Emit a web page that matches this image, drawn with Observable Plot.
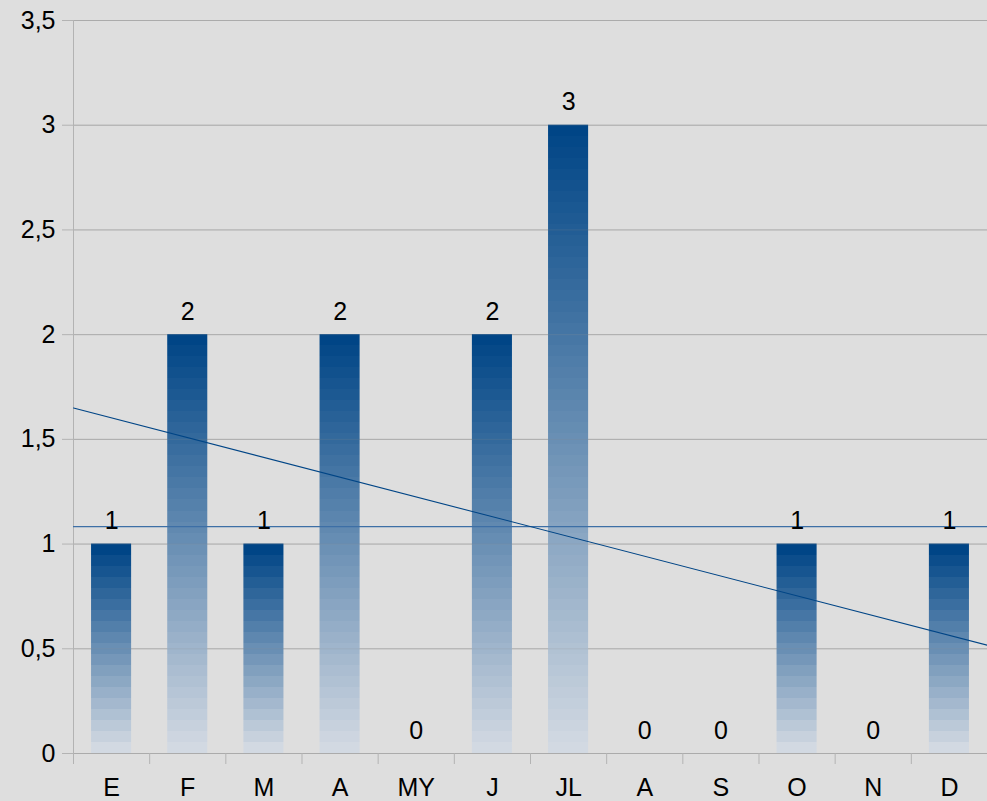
<!DOCTYPE html>
<html>
<head>
<meta charset="utf-8">
<script src="https://cdn.jsdelivr.net/npm/d3@7"></script>
<script src="https://cdn.jsdelivr.net/npm/@observablehq/plot@0.6"></script>
<style>
  html, body { margin: 0; padding: 0; background: #dedede; }
  #chart { width: 987px; height: 801px; }
</style>
</head>
<body>
<div id="chart"></div>
<script>
const months = ["E", "F", "M", "A", "MY", "J", "JL", "A", "S", "O", "N", "D"];
const values = [1, 2, 1, 2, 0, 2, 3, 0, 0, 1, 0, 1];
const yTicks = [0, 0.5, 1, 1.5, 2, 2.5, 3, 3.5];

const data = months.map((m, k) => ({ i: k + 1, month: m, value: values[k] }));

// mean and linear regression computed from data
const meanVal = d3.mean(values);
const xs = data.map(d => d.i);
const xMean = d3.mean(xs);
const slope = d3.sum(data, d => (d.i - xMean) * (d.value - meanVal)) / d3.sum(data, d => (d.i - xMean) ** 2);
const intercept = meanVal - slope * xMean;
const trend = [0.5, months.length + 0.5].map(x => ({ x, y: intercept + slope * x }));

const boundaries = d3.range(0, months.length + 1).map(k => k + 0.5);
const halfBar = 0.263;
const FS = 25;

const plot = Plot.plot({
  width: 987,
  height: 801,
  marginLeft: 73,
  marginRight: 0,
  marginTop: 20,
  marginBottom: 48,
  style: { background: "#dedede", fontFamily: "'Liberation Sans', Arial, sans-serif", fontSize: FS + "px", color: "black" },
  x: { type: "linear", domain: [0.5, months.length + 0.5] },
  y: { domain: [0, 3.5] },
  marks: [
    Plot.gridY(yTicks, { stroke: "#b3b3b3", strokeOpacity: 1 }),
    Plot.rectY(data, { x1: d => d.i - halfBar, x2: d => d.i + halfBar, y: "value", fill: d => `url(#barGrad${d.i})` }),
    Plot.gridY(yTicks, { stroke: "#8a8a8a", strokeOpacity: 0.2 }),
    Plot.ruleX([0.5], { stroke: "#b3b3b3" }),
    Plot.axisY(yTicks, {
      tickSize: 11, tickPadding: 7, stroke: "#b3b3b3", fill: "black",
      tickFormat: d => String(d).replace(".", ","), fontSize: FS
    }),
    Plot.axisX(boundaries, { tickSize: 11, tickFormat: () => "", stroke: "#b3b3b3", label: null }),
    Plot.axisX(xs, { tickSize: 0, tickPadding: 25, tickFormat: i => months[i - 1], fill: "black", fontSize: FS, label: null }),
    Plot.ruleY([meanVal], { stroke: "#3d6fa6", strokeWidth: 1.2 }),
    Plot.line(trend, { x: "x", y: "y", stroke: "#004586", strokeWidth: 1.1 }),
    Plot.text(data, { x: "i", y: "value", text: d => String(d.value), dy: -23, fontSize: FS, fill: "black" })
  ]
});

// stepped vertical gradients for bars (about 11px per step, like the original rendering)
const yScale = plot.scale("y");
const interp = d3.interpolateRgb("#004586", "#d9dee5");
let grads = "";
for (const d of data) {
  const h = Math.abs(yScale.apply(0) - yScale.apply(d.value));
  const N = Math.max(2, Math.round(h / 11));
  let stops = "";
  for (let k = 0; k < N; k++) {
    const c = interp(k / (N - 1) * 0.97);
    stops += `<stop offset="${k / N}" stop-color="${c}"/><stop offset="${(k + 1) / N}" stop-color="${c}"/>`;
  }
  grads += `<linearGradient id="barGrad${d.i}" x1="0" y1="0" x2="0" y2="1">${stops}</linearGradient>`;
}
const ns = "http://www.w3.org/2000/svg";
const defs = document.createElementNS(ns, "defs");
defs.innerHTML = grads;
plot.insertBefore(defs, plot.firstChild);

document.getElementById("chart").appendChild(plot);
</script>
</body>
</html>
